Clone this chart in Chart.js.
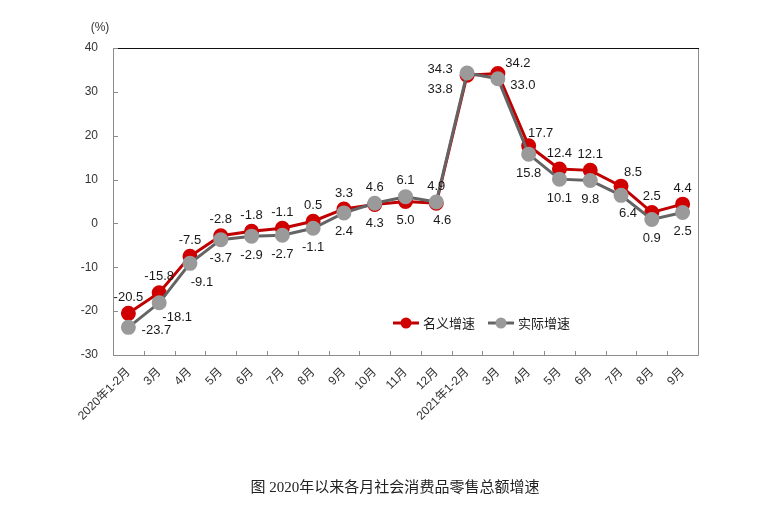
<!DOCTYPE html>
<html><head><meta charset="utf-8">
<script src="https://cdn.jsdelivr.net/npm/chart.js@4"></script>
<style>html,body{margin:0;padding:0;background:#fff}#wrap{position:relative;width:775px;height:512px}</style>
</head><body><div id="wrap"><canvas id="c" width="775" height="512"></canvas></div>
<script>
const categories = ['2020年1-2月','3月','4月','5月','6月','7月','8月','9月','10月','11月','12月','2021年1-2月','3月','4月','5月','6月','7月','8月','9月'];
const nominalGrowth = [-20.5,-15.8,-7.5,-2.8,-1.8,-1.1,0.5,3.3,4.3,5.0,4.6,33.8,34.2,17.7,12.4,12.1,8.5,2.5,4.4];
const realGrowth = [-23.7,-18.1,-9.1,-3.7,-2.9,-2.7,-1.1,2.4,4.6,6.1,4.9,34.3,33.0,15.8,10.1,9.8,6.4,0.9,2.5];
const yTicks = [-30,-20,-10,0,10,20,30,40];
const seriesNames = ['名义增速','实际增速'];
const unitLabel = '(%)';
const chartTitle = '图 2020年以来各月社会消费品零售总额增速';

const FONT = "'Liberation Sans', Arial, 'Noto Sans CJK SC', sans-serif";
const TITLE_FONT = "'Liberation Serif', 'Noto Sans CJK SC', serif";
const RED_LINE = '#C00000', RED_PT = '#D00000', GRAY_LINE = '#646464', GRAY_PT = '#9A9A9A';

// label nudges: [dx, dy] from point, keyed by dataset index and category index
const labelNudges = {
  0: {10:[6,17], 11:[-27,14], 12:[20,-10], 13:[12,-12], 16:[12,-14]},
  1: {0:[28,3], 1:[18,15], 2:[12,19], 11:[-27,-4], 12:[25,7], 16:[7,18]}
};

const decor = {
  id: 'decor',
  beforeDatasetsDraw(chart) {
    const {ctx, chartArea: a, scales: {x, y}} = chart;
    ctx.save();
    ctx.lineWidth = 1;
    ctx.strokeStyle = '#8c8c8c';
    ctx.beginPath();
    ctx.moveTo(a.left + 0.5, a.top);
    ctx.lineTo(a.left + 0.5, a.bottom + 0.5);
    ctx.lineTo(a.right + 0.5, a.bottom + 0.5);
    ctx.lineTo(a.right + 0.5, a.top);
    ctx.stroke();
    ctx.strokeStyle = '#111';
    ctx.beginPath();
    ctx.moveTo(a.left, a.top + 0.5);
    ctx.lineTo(a.right + 1, a.top + 0.5);
    ctx.stroke();
    ctx.strokeStyle = '#8c8c8c';
    yTicks.forEach(v => {
      const py = Math.round(y.getPixelForValue(v)) + 0.5;
      ctx.beginPath(); ctx.moveTo(a.left, py); ctx.lineTo(a.left + 5, py); ctx.stroke();
    });
    for (let i = 1; i < categories.length; i++) {
      const px = Math.round((x.getPixelForValue(i - 1) + x.getPixelForValue(i)) / 2) + 0.5;
      ctx.beginPath(); ctx.moveTo(px, a.bottom); ctx.lineTo(px, a.bottom - 4); ctx.stroke();
    }
    ctx.fillStyle = '#333';
    ctx.font = '12px ' + FONT;
    ctx.textAlign = 'center';
    ctx.textBaseline = 'middle';
    ctx.fillText(unitLabel, a.left - 13, a.top - 20);
    ctx.restore();
  },
  afterDatasetsDraw(chart) {
    const {ctx, chartArea: a} = chart;
    const vals = [nominalGrowth, realGrowth];
    ctx.save();
    ctx.font = '13px ' + FONT;
    ctx.fillStyle = '#1a1a1a';
    ctx.textAlign = 'center';
    ctx.textBaseline = 'middle';
    for (let d = 0; d < 2; d++) {
      const meta = chart.getDatasetMeta(d);
      meta.data.forEach((pt, j) => {
        const v = vals[d][j], other = vals[1 - d][j];
        const upper = v > other || (v === other && d === 0);
        let off = upper ? [0, -16] : [0, 19];
        if (labelNudges[d][j]) off = labelNudges[d][j];
        ctx.fillText(v.toFixed(1), pt.x + off[0], pt.y + off[1]);
      });
    }
    // legend inside plot
    const ly = a.top + 275;
    const items = [
      {x: a.left + 280, line: RED_LINE, pt: RED_PT, text: seriesNames[0]},
      {x: a.left + 375, line: GRAY_LINE, pt: GRAY_PT, text: seriesNames[1]}
    ];
    ctx.textAlign = 'left';
    items.forEach(it => {
      ctx.strokeStyle = it.line; ctx.lineWidth = 3;
      ctx.beginPath(); ctx.moveTo(it.x, ly); ctx.lineTo(it.x + 26, ly); ctx.stroke();
      ctx.fillStyle = it.pt;
      ctx.beginPath(); ctx.arc(it.x + 13, ly, 5.5, 0, Math.PI * 2); ctx.fill();
      ctx.fillStyle = '#1a1a1a';
      ctx.fillText(it.text, it.x + 30, ly + 1);
    });
    // caption
    ctx.font = '15px ' + TITLE_FONT;
    ctx.fillStyle = '#222';
    ctx.textAlign = 'center';
    ctx.fillText(chartTitle, 395, chart.height - 24);
    ctx.restore();
  }
};

new Chart(document.getElementById('c'), {
  type: 'line',
  data: {
    labels: categories,
    datasets: [
      {label: seriesNames[0], data: nominalGrowth, borderColor: RED_LINE, backgroundColor: RED_PT,
       pointBackgroundColor: RED_PT, pointBorderColor: RED_PT, borderWidth: 3, pointRadius: 6, tension: 0, order: 1},
      {label: seriesNames[1], data: realGrowth, borderColor: GRAY_LINE, backgroundColor: GRAY_PT,
       pointBackgroundColor: GRAY_PT, pointBorderColor: GRAY_PT, borderWidth: 3, pointRadius: 6, tension: 0, order: 0}
    ]
  },
  options: {
    responsive: false,
    animation: false,
    layout: {padding: {left: 0, right: 77, top: 48, bottom: 77}},
    plugins: {
      legend: {display: false},
      tooltip: {enabled: false},
      title: {display: false}
    },
    scales: {
      x: {
        offset: true,
        grid: {display: false, drawTicks: false, offset: true}, border: {display: false},
        ticks: {color: '#333', font: {family: FONT, size: 12}, minRotation: 45, maxRotation: 45, padding: 10, autoSkip: false},
        afterFit(s) { s.height = 80; }
      },
      y: {
        min: -30, max: 40,
        grid: {display: false, drawTicks: false}, border: {display: false},
        afterBuildTicks(s) { s.ticks = yTicks.map(v => ({value: v})); },
        ticks: {color: '#333', font: {family: FONT, size: 12}, padding: 15},
        afterFit(s) { s.width = 113; }
      }
    }
  },
  plugins: [decor]
});
</script></body></html>
